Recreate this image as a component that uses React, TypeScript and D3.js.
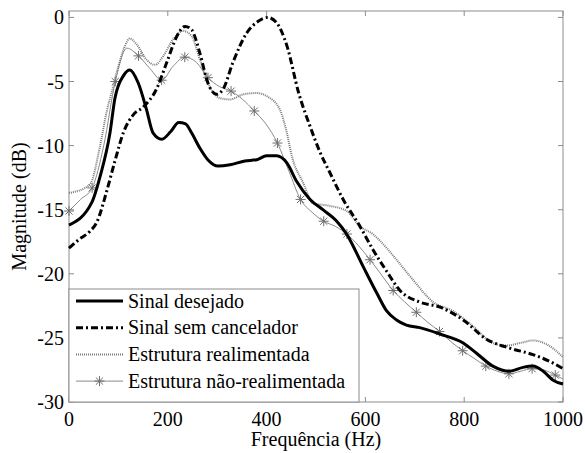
import React from 'react';
import * as d3 from 'd3';

// Frequency (Hz) / magnitude (dB) pairs
const desejadoFreq = [0, 46, 63, 83, 93, 111, 123, 140, 157, 170, 188, 206, 222, 236, 248, 265, 281, 302, 326, 356, 380, 400, 420, 441, 461, 488, 514, 542, 562, 595, 623, 643, 663, 683, 710, 751, 798, 825, 858, 892, 919, 939, 960, 980, 1000];
const desejadoDb = [-16.2, -14.45, -12.4, -9.0, -6.3, -4.5, -4.1, -5.1, -7.2, -9.0, -9.5, -8.9, -8.2, -8.3, -9.0, -10.2, -11.1, -11.6, -11.5, -11.2, -11.1, -10.8, -10.8, -11.35, -12.8, -14.2, -15.0, -15.9, -16.9, -19.4, -21.5, -22.9, -23.6, -24.0, -24.2, -24.7, -25.4, -26.2, -27.2, -27.6, -27.3, -27.2, -27.6, -28.3, -28.6];

const semCancFreq = [0, 21, 42, 56, 76, 93, 110, 130, 150, 177, 198, 218, 235, 248, 265, 281, 299, 312, 332, 360, 383, 402, 420, 441, 465, 488, 508, 528, 555, 589, 615, 643, 670, 710, 751, 798, 845, 892, 939, 974, 1000];
const semCancDb = [-18.0, -17.3, -16.7, -16.0, -13.6, -11.2, -9.0, -7.6, -7.0, -5.6, -3.5, -1.5, -0.7, -0.95, -2.8, -5.1, -6.0, -5.6, -3.5, -1.2, -0.3, 0.0, -0.4, -2.2, -5.9, -8.5, -10.5, -12.1, -14.2, -16.3, -18.1, -19.8, -21.3, -22.2, -22.6, -23.6, -25.1, -25.8, -26.3, -26.85, -27.4];

const realimFreq = [0, 42, 63, 76, 88, 100, 113, 123, 137, 157, 174, 191, 211, 231, 248, 265, 285, 306, 326, 353, 380, 403, 427, 441, 451, 474, 494, 528, 562, 589, 615, 629, 663, 697, 737, 777, 818, 858, 886, 913, 939, 967, 1000];
const realimDb = [-13.7, -13.05, -10.0, -7.4, -5.6, -3.8, -2.25, -1.65, -2.1, -3.3, -3.7, -3.0, -1.7, -1.05, -1.45, -3.3, -5.4, -6.3, -6.4, -6.0, -5.9, -6.2, -7.2, -9.0, -10.8, -12.9, -14.5, -14.7, -15.1, -16.3, -16.9, -17.4, -18.9, -20.5, -22.2, -22.9, -24.1, -25.4, -25.6, -25.4, -25.2, -25.5, -26.5];

// star markers sit on every other point of this series
const naoRealimFreq = [0, 23.4, 46.9, 70.3, 93.75, 117.2, 140.6, 164.1, 187.5, 210.9, 234.4, 257.8, 281.25, 304.7, 328.1, 351.6, 375, 398.4, 421.9, 445.3, 468.75, 492.2, 515.6, 539.1, 562.5, 585.9, 609.4, 632.8, 656.25, 679.7, 703.1, 726.6, 750, 773.4, 796.9, 820.3, 843.75, 867.2, 890.6, 914.1, 937.5, 960.9, 984.4, 1000];
const naoRealimDb = [-15.1, -14.2, -13.3, -10.0, -5.0, -2.4, -3.0, -4.0, -4.9, -3.8, -3.1, -3.5, -4.7, -5.4, -5.75, -6.4, -7.3, -8.3, -9.8, -12.0, -14.2, -15.2, -15.9, -16.3, -16.9, -17.8, -18.9, -20.1, -21.3, -22.2, -23.0, -23.8, -24.5, -25.3, -26.0, -26.6, -27.2, -27.6, -27.8, -27.6, -27.4, -27.5, -27.9, -28.2];

const xTicks = [0, 200, 400, 600, 800, 1000];
const yTicks = [0, -5, -10, -15, -20, -25, -30];
const legendLabels = ['Sinal desejado', 'Sinal sem cancelador', 'Estrutura realimentada', 'Estrutura não-realimentada'];

const W = 585;
const H = 453;
const margin = { left: 69, right: 22, top: 11, bottom: 51 };
const axisColor = '#8c8c8c';
const serif = 'Liberation Serif';

const zip = (f: number[], v: number[]) => f.map((d, i) => [d, v[i]] as [number, number]);

const Star = ({ x, y, r = 5 }: { x: number; y: number; r?: number }) => {
  const d = r * 0.72;
  return (
    <g stroke="#6e6e6e" strokeWidth={1}>
      <line x1={x - r} y1={y} x2={x + r} y2={y} />
      <line x1={x} y1={y - r} x2={x} y2={y + r} />
      <line x1={x - d} y1={y - d} x2={x + d} y2={y + d} />
      <line x1={x - d} y1={y + d} x2={x + d} y2={y - d} />
    </g>
  );
};

const App = () => {
  const x = d3.scaleLinear().domain([0, 1000]).range([margin.left, W - margin.right]);
  const y = d3.scaleLinear().domain([-30, 0.5]).range([H - margin.bottom, margin.top]);

  const line = d3.line<[number, number]>()
    .x(d => x(d[0]))
    .y(d => y(d[1]))
    .curve(d3.curveMonotoneX);

  const desejado = zip(desejadoFreq, desejadoDb);
  const semCanc = zip(semCancFreq, semCancDb);
  const realim = zip(realimFreq, realimDb);
  const naoRealim = zip(naoRealimFreq, naoRealimDb);
  const stars = naoRealim.filter((_, i) => i % 2 === 0 && i < 43);

  const [x0, x1] = x.range();
  const [y0, y1] = y.range();
  const tick = 5;

  // legend box
  const lgX = x0;
  const lgTop = 289;
  const lgW = 290;
  const lgRow = (i: number) => lgTop + 12 + i * 26.7;

  const styles = [
    { stroke: '#000', width: 3, dash: undefined as string | undefined },
    { stroke: '#000', width: 3, dash: '7,3,2,3' },
    { stroke: '#7a7a7a', width: 2, dash: '1,1' },
    { stroke: '#8a8a8a', width: 1, dash: undefined },
  ];

  return (
    <div style={{ position: 'absolute', left: 0, top: 0 }}>
      <svg width={W} height={H} style={{ display: 'block', background: '#fff', fontFamily: serif }}>
        <rect x={0} y={0} width={W} height={H} fill="#fff" />

        {/* axis box with inward ticks */}
        <rect x={x0} y={y1} width={x1 - x0} height={y0 - y1} fill="none" stroke={axisColor} strokeWidth={1} />
        {xTicks.map(t => (
          <g key={'xt' + t} stroke={axisColor}>
            <line x1={x(t)} x2={x(t)} y1={y0} y2={y0 - tick} />
            <line x1={x(t)} x2={x(t)} y1={y1} y2={y1 + tick} />
          </g>
        ))}
        {yTicks.map(t => (
          <g key={'yt' + t} stroke={axisColor}>
            <line x1={x0} x2={x0 + tick} y1={y(t)} y2={y(t)} />
            <line x1={x1} x2={x1 - tick} y1={y(t)} y2={y(t)} />
          </g>
        ))}

        {/* series */}
        <path d={line(naoRealim) || ''} fill="none" stroke={styles[3].stroke} strokeWidth={1} />
        {stars.map((d, i) => <Star key={'s' + i} x={x(d[0])} y={y(d[1])} />)}
        <path d={line(realim) || ''} fill="none" stroke={styles[2].stroke} strokeWidth={styles[2].width} strokeDasharray={styles[2].dash} />
        <path d={line(semCanc) || ''} fill="none" stroke="#000" strokeWidth={3} strokeDasharray={styles[1].dash} />
        <path d={line(desejado) || ''} fill="none" stroke="#000" strokeWidth={3} />

        <g fontSize={20} fill="#000">
          {/* tick labels */}
          {xTicks.map(t => (
            <text key={'xl' + t} x={x(t)} y={y0 + 24} textAnchor="middle" style={{ fontFamily: serif }}>{t}</text>
          ))}
          {yTicks.map(t => (
            <text key={'yl' + t} x={x0 - 5} y={y(t) + 7} textAnchor="end" style={{ fontFamily: serif }}>{t}</text>
          ))}

          {/* axis titles */}
          <text x={(x0 + x1) / 2} y={y0 + 44} textAnchor="middle" style={{ fontFamily: serif }}>Frequência (Hz)</text>
          <text transform={`translate(26,${(y0 + y1) / 2}) rotate(-90)`} textAnchor="middle" style={{ fontFamily: serif }}>Magnitude (dB)</text>
        </g>

        {/* legend */}
        <rect x={lgX} y={lgTop} width={lgW} height={y0 - lgTop} fill="#fff" stroke={axisColor} strokeWidth={1} />
        {legendLabels.map((lab, i) => (
          <g key={lab}>
            <line x1={lgX + 7} x2={lgX + 54} y1={lgRow(i)} y2={lgRow(i)} stroke={styles[i].stroke} strokeWidth={styles[i].width} strokeDasharray={styles[i].dash} />
            {i === 3 && <Star x={lgX + 30.5} y={lgRow(i)} />}
            <text x={lgX + 59} y={lgRow(i) + 6.5} fontSize={20} fill="#000" style={{ fontFamily: serif }}>{lab}</text>
          </g>
        ))}
      </svg>
    </div>
  );
};

export default App;
